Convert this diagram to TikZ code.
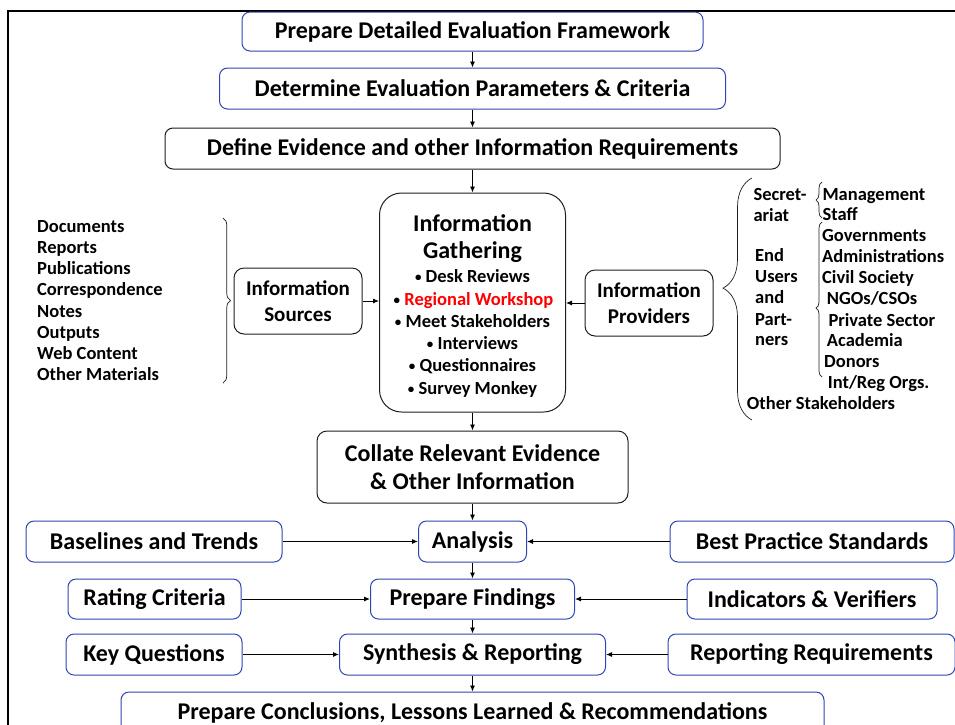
\documentclass[tikz,border=0pt]{standalone}
\usepackage{fontspec}
\setmainfont{Carlito}
\usetikzlibrary{arrows.meta,decorations.pathreplacing}
\definecolor{bbl}{RGB}{46,69,181}
\definecolor{kline}{RGB}{30,30,30}
\newcommand\mybul{{\fontsize{13}{13}\selectfont\raisebox{1pt}{•}}}
\begin{document}
\begin{tikzpicture}[x=1pt,y=-1pt,
  box/.style={draw, rounded corners=8pt, line width=1pt, inner sep=0pt,
    font=\fontsize{24}{28}\selectfont\bfseries, align=center},
  bbox/.style={box, draw=bbl},
  kbox/.style={box, draw=kline},
  arr/.style={-{Latex[length=6pt,width=5pt]}, line width=0.9pt},
  lst/.style={font=\fontsize{18.5}{21}\selectfont\bfseries, inner sep=0pt, anchor=base west},
  igl/.style={font=\fontsize{18.5}{21}\selectfont\bfseries, inner sep=0pt, anchor=base},
  igt/.style={font=\fontsize{24}{28}\selectfont\bfseries, inner sep=0pt, anchor=base},
  brc/.style={draw=kline, line width=0.7pt, decorate}
]
\useasboundingbox (0,0) rectangle (955,724);
\draw[line width=1.6pt] (8,11) rectangle (968,740);

% main column
\node[bbox, minimum width=461pt, minimum height=39pt] (pdef) at (472.5,31.5) {Prepare Detailed Evaluation Framework};
\node[bbox, minimum width=506pt, minimum height=41pt] (depc) at (472.5,88.5) {Determine Evaluation Parameters \& Criteria};
\node[kbox, minimum width=615pt, minimum height=41pt] (deir) at (472.5,148.5) {Define Evidence and other Information Requirements};
\node[kbox, rounded corners=22pt, minimum width=186pt, minimum height=219pt] (ig) at (472.5,302.5) {};
\node[igt] (igt1) at (472.5,231) {Information};
\node[igt] (igt2) at (472.5,258) {Gathering};
\node[igl] (igb1) at (472.5,282.7) {\mybul\ Desk Reviews};
\node[igl] (igb2) at (473.5,305) {\mybul\ \textcolor{red}{Regional Workshop}};
\node[igl] (igb3) at (472.5,327.3) {\mybul\ Meet Stakeholders};
\node[igl] (igb4) at (472.5,349.6) {\mybul\ Interviews};
\node[igl] (igb5) at (472.5,371.9) {\mybul\ Questionnaires};
\node[igl] (igb6) at (472.5,394.2) {\mybul\ Survey Monkey};

\node[kbox, rounded corners=10pt, minimum width=128pt, minimum height=66pt,
  font=\fontsize{21}{25.7}\selectfont\bfseries] (is) at (298,301) {Information\\Sources};
\node[kbox, rounded corners=10pt, minimum width=128pt, minimum height=66pt,
  font=\fontsize{21}{25.7}\selectfont\bfseries] (ip) at (649,303) {Information\\Providers};

\node[kbox, rounded corners=10pt, minimum width=311pt, minimum height=72pt,
  font=\fontsize{24}{28.4}\selectfont\bfseries] (col) at (472.5,467) {Collate Relevant Evidence\\\& Other Information};

\node[bbox, minimum width=108pt, minimum height=41pt] (an) at (472.5,541.5) {Analysis};
\node[bbox, minimum width=256pt, minimum height=41pt] (bl) at (154,541.5) {Baselines and Trends};
\node[bbox, minimum width=284pt, minimum height=41pt] (bp) at (812,541.5) {Best Practice Standards};

\node[bbox, minimum width=204pt, minimum height=40pt] (pf) at (472.5,599) {Prepare Findings};
\node[bbox, minimum width=173pt, minimum height=40pt] (rc) at (154.5,599) {Rating Criteria};
\node[bbox, minimum width=250pt, minimum height=40pt] (iv) at (812,599) {Indicators \& Verifiers};

\node[bbox, minimum width=266pt, minimum height=41pt] (sr) at (472.5,654.5) {Synthesis \& Reporting};
\node[bbox, minimum width=176pt, minimum height=41pt] (kq) at (154,654.5) {Key Questions};
\node[bbox, minimum width=287pt, minimum height=41pt] (rr) at (811.5,654.5) {Reporting Requirements};

\node[bbox, minimum width=703pt, minimum height=41pt] (pc) at (472.5,712.5) {Prepare Conclusions, Lessons Learned \& Recommendations};

% vertical arrows
\draw[arr] (pdef) -- (depc);
\draw[arr] (depc) -- (deir);
\draw[arr] (deir) -- (ig);
\draw[arr] (ig) -- (col);
\draw[arr] (col) -- (an);
\draw[arr] (an) -- (pf);
\draw[arr] (pf) -- (sr);
\draw[arr] (sr) -- (pc);

% horizontal arrows
\draw[arr] (is.east) -- (is.east -| ig.west);
\draw[arr] (ip.west) -- (ip.west -| ig.east);
\draw[arr] (bl) -- (an);
\draw[arr] (bp) -- (an);
\draw[arr] (rc) -- (pf);
\draw[arr] (iv) -- (pf);
\draw[arr] (kq) -- (sr);
\draw[arr] (rr) -- (sr);

% left list
\node[lst] (l1) at (37,232.3) {Documents};
\node[lst] (l2) at (37,253.5) {Reports};
\node[lst] (l3) at (37,274.7) {Publications};
\node[lst] (l4) at (37,295.9) {Correspondence};
\node[lst] (l5) at (37,317.1) {Notes};
\node[lst] (l6) at (37,338.3) {Outputs};
\node[lst] (l7) at (37,359.5) {Web Content};
\node[lst] (l8) at (37,380.7) {Other Materials};
\coordinate (lbt) at (223,218);
\coordinate (lbb) at (223,383);
\draw[brc, decoration={brace, amplitude=7.5pt}] (lbt) -- (lbb);

% right lists
\coordinate (rbb) at (752,420);
\coordinate (rbt) at (752,178);
\draw[brc, decoration={brace, amplitude=29pt, aspect=0.545}] (rbb) -- (rbt);
\node[lst] (s1) at (753.3,200.5) {Secret-};
\node[lst] (s2) at (753.3,221.7) {ariat};
\node[lst] (e1) at (755,261.7) {End};
\node[lst] (e2) at (755,282.7) {Users};
\node[lst] (e3) at (755,303.3) {and};
\node[lst] (e4) at (755,325) {Part-};
\node[lst] (e5) at (755,345.7) {ners};
\node[lst] (os) at (746.7,409.3) {Other Stakeholders};

\coordinate (b1b) at (822,218);
\coordinate (b1t) at (822,182);
\draw[brc, decoration={brace, amplitude=6pt}] (b1b) -- (b1t);
\coordinate (b2b) at (822,377);
\coordinate (b2t) at (822,222);
\draw[brc, decoration={brace, amplitude=6pt, aspect=0.445}] (b2b) -- (b2t);

\node[lst] (r1) at (822.3,200) {Management};
\node[lst] (r2) at (822.3,220.7) {Staff};
\node[lst] (r3) at (822,241.7) {Governments};
\node[lst] (r4) at (822,262.7) {Administrations};
\node[lst] (r5) at (822,283.3) {Civil Society};
\node[lst] (r6) at (826.7,304.3) {NGOs/CSOs};
\node[lst] (r7) at (828.3,326) {Private Sector};
\node[lst] (r8) at (826.7,346.7) {Academia};
\node[lst] (r9) at (824,367.3) {Donors};
\node[lst] (r10) at (827.7,388.3) {Int/Reg Orgs.};
\end{tikzpicture}
\end{document}
